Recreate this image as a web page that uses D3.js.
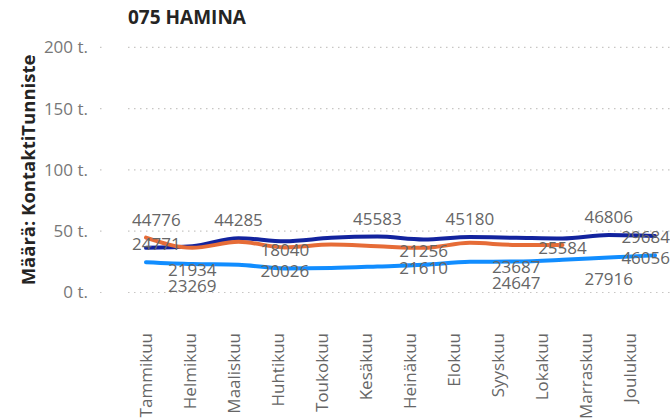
<!DOCTYPE html>
<html>
<head>
<meta charset="utf-8">
<script src="https://cdn.jsdelivr.net/npm/d3@7"></script>
<style>
  body { margin: 0; background: #fff; }
  text { font-family: "Open Sans", "Segoe UI", sans-serif; }
</style>
</head>
<body>
<svg id="chart" width="670" height="419"></svg>
<script>
// categories and values
var months = ["Tammikuu", "Helmikuu", "Maaliskuu", "Huhtikuu", "Toukokuu", "Kesäkuu",
              "Heinäkuu", "Elokuu", "Syyskuu", "Lokakuu", "Marraskuu", "Joulukuu"];
var yTicks = [0, 50000, 100000, 150000, 200000];

var navyValues   = [36400, 37700, 44285, 41800, 44600, 45583, 43200, 45180, 44600, 44000, 46806, 46056];
var orangeValues = [44776, 36400, 41300, 36800, 39100, 37700, 36400, 40500, 38800, 38800];
var blueValues   = [24771, 23269, 22600, 19600, 20000, 21200, 22600, 25000, 25300, 26700, 28600, 30300];

// data labels shown in the picture: [month index, text, placement]
var navyLabels   = [[2, "44285", "above"], [5, "45583", "above"], [7, "45180", "above"],
                    [10, "46806", "above"], [11, "46056", "below"]];
var orangeLabels = [[0, "44776", "above"], [1, "21934", "below"], [3, "18040", "on"],
                    [6, "21256", "on"], [8, "23687", "below"], [9, "25584", "on"]];
var blueLabels   = [[0, "24771", "above"], [1, "23269", "below"], [3, "20026", "on"],
                    [6, "21610", "on"], [8, "24647", "below"], [10, "27916", "below"],
                    [11, "29684", "above"]];

var svg = d3.select("#chart");

var y = d3.scaleLinear()
  .domain([0, 200000])
  .range([292.5, 47.3]);
var x = d3.scalePoint()
  .domain(months)
  .range([146, 655]);
// category labels sit on a slightly narrower spacing than the points
var xLabel = d3.scalePoint()
  .domain(months)
  .range([145.5, 630]);

// title
svg.append("text")
  .attr("x", 128)
  .attr("y", 24)
  .attr("fill", "#252423")
  .style("font-size", "19px")
  .style("font-weight", "bold")
  .text("075 HAMINA");

// gridlines
var grid = svg.append("g");
grid.selectAll("line.grid")
  .data(yTicks)
  .enter().append("line")
    .attr("class", "grid")
    .attr("x1", 128).attr("x2", 670)
    .attr("y1", function(d) { return y(d); })
    .attr("y2", function(d) { return y(d); })
    .attr("stroke", "#c8c6c4")
    .attr("stroke-width", 1.2)
    .attr("stroke-dasharray", "1.5,4.5");
grid.selectAll("line.tick")
  .data(yTicks)
  .enter().append("line")
    .attr("class", "tick")
    .attr("x1", 100).attr("x2", 101.5)
    .attr("y1", function(d) { return y(d); })
    .attr("y2", function(d) { return y(d); })
    .attr("stroke", "#c8c6c4")
    .attr("stroke-width", 1.2);

// y axis
var yAxis = svg.append("g")
  .attr("transform", "translate(88,0)")
  .call(d3.axisLeft(y).tickValues(yTicks).tickSize(0).tickPadding(0)
    .tickFormat(function(d) { return (d / 1000) + " t."; }));
yAxis.select(".domain").remove();
yAxis.selectAll("text")
  .attr("fill", "#777")
  .style("font-size", "17px")
  .style("font-family", "'Open Sans', sans-serif");

svg.append("text")
  .attr("transform", "translate(35,170) rotate(-90)")
  .attr("text-anchor", "middle")
  .attr("fill", "#252423")
  .style("font-size", "18.5px")
  .style("font-weight", "bold")
  .text("Määrä: KontaktiTunniste");

// x axis
var xAxis = svg.append("g")
  .attr("transform", "translate(0,333)")
  .call(d3.axisBottom(xLabel).tickSize(0).tickPadding(0));
xAxis.select(".domain").remove();
xAxis.selectAll("text")
  .attr("transform", "rotate(-90)")
  .attr("text-anchor", "end")
  .attr("x", 0)
  .attr("y", 0)
  .attr("dy", "0.35em")
  .attr("fill", "#666")
  .style("font-size", "17px")
  .style("font-family", "'Open Sans', sans-serif");

// lines
var line = d3.line()
  .curve(d3.curveMonotoneX)
  .x(function(d, i) { return x(months[i]); })
  .y(function(d) { return y(d); });

var series = [
  {values: navyValues,   labels: navyLabels,   color: "#12239E"},
  {values: orangeValues, labels: orangeLabels, color: "#E66C37"},
  {values: blueValues,   labels: blueLabels,   color: "#118DFF"}
];

svg.append("g").selectAll("path")
  .data(series)
  .enter().append("path")
    .attr("d", function(s) { return line(s.values); })
    .attr("fill", "none")
    .attr("stroke", function(s) { return s.color; })
    .attr("stroke-width", 4)
    .attr("stroke-linejoin", "round")
    .attr("stroke-linecap", "round");

// data labels
var offsets = {above: -12, below: 28, on: 9};
var labelG = svg.append("g");
series.forEach(function(s) {
  labelG.selectAll(null)
    .data(s.labels)
    .enter().append("text")
      .attr("fill", "#666")
      .attr("text-anchor", "middle")
      .style("font-size", "17px")
      .text(function(d) { return d[1]; })
      .attr("y", function(d) { return y(s.values[d[0]]) + offsets[d[2]]; })
      .attr("x", function(d) {
        var w = this.getComputedTextLength();
        var cx = x(months[d[0]]);
        return Math.max(132 + w / 2, Math.min(670 - w / 2, cx));
      });
});
</script>
</body>
</html>
